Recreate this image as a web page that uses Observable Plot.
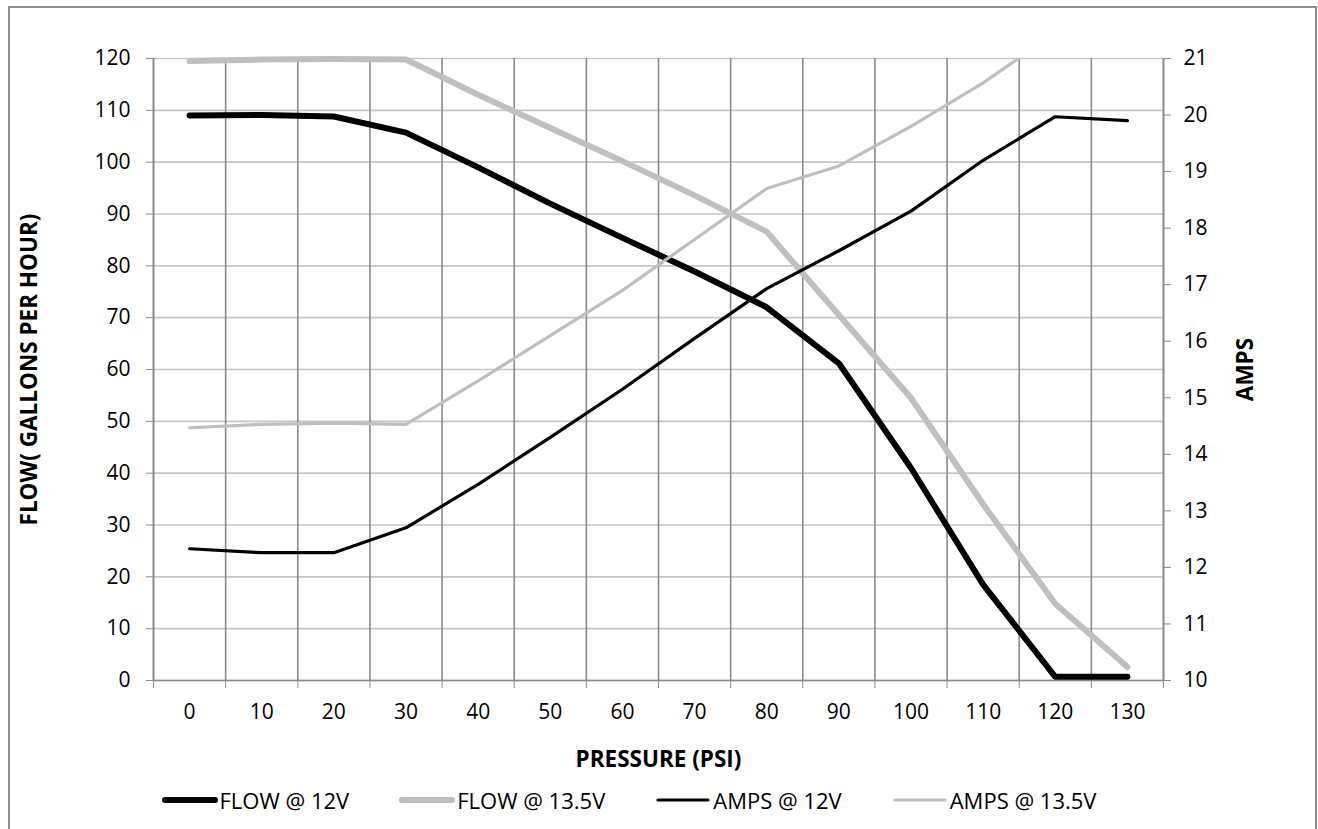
<!DOCTYPE html>
<html>
<head>
<meta charset="utf-8">
<script src="https://cdn.jsdelivr.net/npm/d3@7"></script>
<script src="https://cdn.jsdelivr.net/npm/@observablehq/plot@0.6"></script>
<style>
  html, body { margin: 0; padding: 0; background: #fff; }
  body { width: 1318px; height: 829px; position: relative; overflow: hidden; font-family: "Open Sans", sans-serif; }
  #frame { position: absolute; left: 8px; top: 6px; width: 1309px; height: 900px; border: 2px solid #8e8e8e; box-sizing: border-box; }
  #chart { position: absolute; left: 0; top: 0; }
  #legend { position: absolute; left: -30px; top: 785px; width: 1318px; display: flex; justify-content: center; align-items: center; font-size: 22px; color: #000; }
  .item { display: flex; align-items: center; margin: 0 25px; }
  .item svg { display: block; margin-right: 2px; }
</style>
</head>
<body>
<div id="frame"></div>
<div id="chart"></div>
<div id="legend"></div>
<script>
const pressures = [0, 10, 20, 30, 40, 50, 60, 70, 80, 90, 100, 110, 120, 130];
const flow12  = [109, 109.1, 108.8, 105.7, 99, 92, 85.4, 78.9, 72, 61.2, 41, 18.5, 0.7, 0.7];
const flow135 = [119.5, 119.8, 119.9, 119.8, 113, 106.6, 100.2, 93.6, 86.6, 70.5, 54.5, 34, 14.8, 2.6];
const amps12  = [12.33, 12.26, 12.26, 12.7, 13.47, 14.3, 15.15, 16.05, 16.93, 17.6, 18.3, 19.2, 19.97, 19.9];
const amps135 = [14.47, 14.53, 14.55, 14.53, 15.3, 16.1, 16.9, 17.8, 18.7, 19.1, 19.8, 20.57, 21.45, null];
const flowTicks = [0, 10, 20, 30, 40, 50, 60, 70, 80, 90, 100, 110, 120];
const ampTicks = [10, 11, 12, 13, 14, 15, 16, 17, 18, 19, 20, 21];
const seriesNames = ["FLOW @ 12V", "FLOW @ 13.5V", "AMPS @ 12V", "AMPS @ 13.5V"];
const xTitle = "PRESSURE (PSI)";
const yTitle = "FLOW( GALLONS PER HOUR)";
const y2Title = "AMPS";

// secondary axis mapping (amps 10..21 onto flow 0..120)
const toFlow = a => a == null ? null : (a - 10) * 120 / 11;
const fromFlow = f => f * 11 / 120 + 10;
const xBounds = [...pressures.map(p => p - 5), 135];

const BLACK = "#000000", GRAY = "#bfbfbf", GRID_H = "#c6c6c6", GRID_V = "#8a8a8a";
const FONT = 21;
const TITLE = 22.5;

const chart = Plot.plot({
  width: 1318,
  height: 775,
  marginLeft: 153,
  marginRight: 155,
  marginTop: 58,
  marginBottom: 95,
  style: { fontFamily: "'Open Sans', sans-serif", fontSize: FONT + "px", color: "#000", background: "transparent" },
  x: { type: "linear", domain: [-5, 135], label: null },
  y: { domain: [0, 120], label: null },
  marks: [
    Plot.gridY(flowTicks, { stroke: GRID_H, strokeOpacity: 1, strokeWidth: 1.6 }),
    Plot.gridX(xBounds, { stroke: GRID_V, strokeOpacity: 1, strokeWidth: 1.6 }),
    Plot.ruleY([0], { stroke: GRID_V, strokeWidth: 1.6 }),
    Plot.ruleX([-5], { stroke: GRID_V, strokeWidth: 1.6 }),
    Plot.ruleX([135], { stroke: GRID_V, strokeWidth: 1.6 }),
    Plot.axisY(flowTicks, { anchor: "left", tickSize: 7, tickPadding: 16, stroke: GRID_V, fill: "#000", label: null, fontSize: FONT }),
    Plot.axisY(ampTicks.map(toFlow), { anchor: "right", tickSize: 7, tickPadding: 13, stroke: GRID_V, fill: "#000", label: null, fontSize: FONT, tickFormat: v => String(Math.round(fromFlow(v))) }),
    Plot.axisX(xBounds, { anchor: "bottom", tickSize: 8, stroke: GRID_V, tickFormat: () => "", label: null }),
    Plot.axisX(pressures, { anchor: "bottom", tickSize: 0, tickPadding: 24, fill: "#000", label: null, fontSize: FONT }),
    Plot.line(flow12, { x: (d, i) => pressures[i], y: d => d, stroke: BLACK, strokeWidth: 6, strokeLinejoin: "round", strokeLinecap: "round" }),
    Plot.line(flow135, { x: (d, i) => pressures[i], y: d => d, stroke: GRAY, strokeWidth: 6, strokeLinejoin: "round", strokeLinecap: "round" }),
    Plot.line(amps12, { x: (d, i) => pressures[i], y: d => toFlow(d), stroke: BLACK, strokeWidth: 3.2, strokeLinejoin: "round", strokeLinecap: "round" }),
    Plot.line(amps135, { x: (d, i) => pressures[i], y: d => toFlow(d), stroke: GRAY, strokeWidth: 3.2, strokeLinejoin: "round", strokeLinecap: "round", clip: true }),
    Plot.text([yTitle], { frameAnchor: "left", dx: -124, rotate: -90, textAnchor: "middle", fontWeight: "bold", fontSize: TITLE, fill: "#000" }),
    Plot.text([y2Title], { frameAnchor: "right", dx: 82, rotate: -90, textAnchor: "middle", fontWeight: "bold", fontSize: TITLE, fill: "#000" }),
    Plot.text([xTitle], { frameAnchor: "bottom", dy: 86, textAnchor: "middle", fontWeight: "bold", fontSize: TITLE, fill: "#000" })
  ]
});
document.getElementById("chart").appendChild(chart);

// legend
const legendStyles = [
  { color: BLACK, width: 6 },
  { color: GRAY, width: 6 },
  { color: BLACK, width: 3.2 },
  { color: GRAY, width: 3.2 }
];
const legend = document.getElementById("legend");
seriesNames.forEach((name, i) => {
  const item = document.createElement("div");
  item.className = "item";
  const s = legendStyles[i];
  item.innerHTML = `<svg width="56" height="14"><line x1="3" y1="7" x2="53" y2="7" stroke="${s.color}" stroke-width="${s.width}" stroke-linecap="round"/></svg><span>${name}</span>`;
  legend.appendChild(item);
});
</script>
</body>
</html>
